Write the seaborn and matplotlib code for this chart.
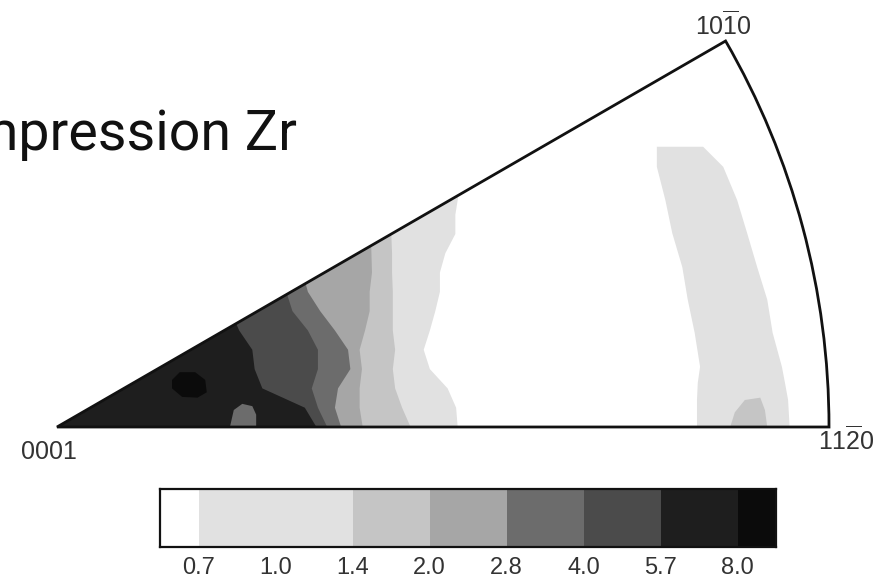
import numpy as np
import matplotlib
matplotlib.use("Agg")
import matplotlib.pyplot as plt
from matplotlib.colors import ListedColormap
from matplotlib.patches import Wedge
import seaborn as sns

sns.set_theme(style="white")
plt.rcParams['font.family'] = ['Liberation Sans', 'DejaVu Sans']
plt.rcParams['mathtext.fontset'] = 'custom'
plt.rcParams['mathtext.rm'] = 'Liberation Sans'

# ---- data -------------------------------------------------------------
title = "Compression Zr"
level_labels = ["0.7", "1.0", "1.4", "2.0", "2.8", "4.0", "5.7", "8.0"]
# colour of each intensity bin: <0.7, 0.7-1.0, 1.0-1.4, 1.4-2.0, 2.0-2.8, 2.8-4.0, 4.0-5.7, 5.7-8.0, >8
level_colors = ["#ffffff", "#e1e1e1", "#e1e1e1", "#c5c5c5", "#a6a6a6",
                "#6c6c6c", "#4b4b4b", "#1e1e1e", "#0b0b0b"]

# contour boundaries (pole-figure coords, 0001 at origin, 11-20 at (1,0))
b07_y = [0.0, 0.025, 0.05, 0.075, 0.1, 0.125, 0.15, 0.175, 0.2, 0.225, 0.25, 0.275, 0.3]
b07_x = [0.519, 0.517, 0.506, 0.483, 0.475, 0.483, 0.490, 0.496, 0.496, 0.503, 0.516, 0.516, 0.520]
b14_y = [0.0, 0.025, 0.05, 0.075, 0.1, 0.125, 0.15, 0.175, 0.2, 0.225, 0.25]
b14_x = [0.458, 0.447, 0.438, 0.435, 0.438, 0.435, 0.435, 0.435, 0.434, 0.434, 0.433]
b20_y = [0.0, 0.025, 0.05, 0.075, 0.1, 0.125, 0.15, 0.175, 0.2, 0.235]
b20_x = [0.396, 0.392, 0.392, 0.395, 0.392, 0.399, 0.405, 0.405, 0.408, 0.407]
b28_y = [0.0, 0.025, 0.05, 0.075, 0.1, 0.125, 0.15, 0.175, 0.186]
b28_x = [0.368, 0.360, 0.364, 0.380, 0.377, 0.360, 0.341, 0.325, 0.322]
b40_y = [0.0, 0.025, 0.05, 0.075, 0.1, 0.125, 0.15, 0.172]
b40_x = [0.350, 0.338, 0.330, 0.338, 0.338, 0.325, 0.305, 0.298]
b57_y = [0.0, 0.025, 0.05, 0.075, 0.1, 0.125, 0.134]
b57_x = [0.336, 0.321, 0.266, 0.256, 0.253, 0.236, 0.232]

# light band near 11-20 (0.7-1.4)
band_y = [0.0, 0.035, 0.057, 0.078, 0.122, 0.165, 0.207, 0.251, 0.294, 0.337, 0.363]
band_left_x = [0.829, 0.829, 0.830, 0.833, 0.826, 0.817, 0.810, 0.797, 0.788, 0.777, 0.777]
band_right_x = [0.949, 0.947, 0.943, 0.939, 0.927, 0.920, 0.907, 0.894, 0.881, 0.863, 0.837]
# small 1.4-2.0 patch at foot of the band
p14_x = [0.872, 0.878, 0.891, 0.911, 0.917, 0.920]
p14_y = [0.0, 0.019, 0.035, 0.038, 0.022, 0.0]
# >8 blob
p80_x = [0.149, 0.159, 0.179, 0.192, 0.194, 0.182, 0.162, 0.149]
p80_y = [0.061, 0.071, 0.071, 0.061, 0.045, 0.038, 0.039, 0.050]
# 2.8-4.0 patch on the bottom edge
p28_x = [0.224, 0.229, 0.240, 0.253, 0.258, 0.258]
p28_y = [0.0, 0.022, 0.030, 0.027, 0.016, 0.0]

# ---- figure ------------------------------------------------------------
W, H = 886, 582
fig = plt.figure(figsize=(W / 100, H / 100), dpi=100)
fig.patch.set_facecolor("white")

ox, oy, R = 57, 427, 772          # pixel anchor of the pole figure
ax = fig.add_axes([0, 0, 1, 1])
ax.set_xlim(-ox / R, (W - ox) / R)
ax.set_ylim((oy - H) / R, oy / R)
ax.axis("off")

sector = Wedge((0, 0), 1.0, 0, 30, facecolor="white", edgecolor="none", zorder=1)
ax.add_patch(sector)


def fill(xs, ys, color, z):
    polys = ax.fill(xs, ys, color=color, lw=0, zorder=z)
    for p in polys:
        p.set_clip_path(sector)


def left_region(bx, by, color, z):
    xs = [0.0] + list(bx) + [0.0]
    ys = [0.0] + list(by) + [0.0]
    fill(xs, ys, color, z)


left_region(b07_x, b07_y, level_colors[1], 2)
fill(band_left_x + band_right_x[::-1], band_y + band_y[::-1], level_colors[1], 2)
fill(p14_x, p14_y, level_colors[3], 3)
left_region(b14_x, b14_y, level_colors[3], 3)
left_region(b20_x, b20_y, level_colors[4], 4)
left_region(b28_x, b28_y, level_colors[5], 5)
left_region(b40_x, b40_y, level_colors[6], 6)
left_region(b57_x, b57_y, level_colors[7], 7)
fill(p80_x, p80_y, level_colors[8], 8)
fill(p28_x, p28_y, level_colors[5], 8)

outline = Wedge((0, 0), 1.0, 0, 30, facecolor="none", edgecolor="#111111",
                lw=2.0, zorder=10, joinstyle="miter")
ax.add_patch(outline)

lab_kw = dict(ha="center", va="center", fontsize=18, color="#333333")
fig.text(49 / W, 1 - 452 / H, "0001", **lab_kw)
fig.text(723 / W, 1 - 25 / H, r"$\mathregular{10\overline{1}0}$", **lab_kw)
fig.text(846 / W, 1 - 440 / H, r"$\mathregular{11\overline{2}0}$", **lab_kw)

fig.text(297 / W, 1 - 150 / H, title, ha="right", va="baseline",
         fontsize=40, family="Roboto", color="#111111")

# ---- colour bar (seaborn heatmap of half-step cells) -----------------------
n_half = 2 * len(level_labels)
tick_pos = [2 * i + 1 for i in range(len(level_labels))]
cells = [sum(1 for t in tick_pos if t < j + 0.5) for j in range(n_half)]
cax = fig.add_axes([160 / W, 1 - 547 / H, 616 / W, 58 / H])
sns.heatmap(np.array([cells]), cmap=ListedColormap(level_colors),
            vmin=-0.5, vmax=len(level_colors) - 0.5, cbar=False, ax=cax,
            xticklabels=False, yticklabels=False)
cax.set_xticks(tick_pos)
cax.set_xticklabels(level_labels, fontsize=17, color="#333333")
cax.set_yticks([])
cax.tick_params(axis="x", length=0, pad=7)
for s in cax.spines.values():
    s.set_visible(True)
    s.set_color("#111111")
    s.set_linewidth(1.6)

fig.savefig("out.png", dpi=100, facecolor="white")
